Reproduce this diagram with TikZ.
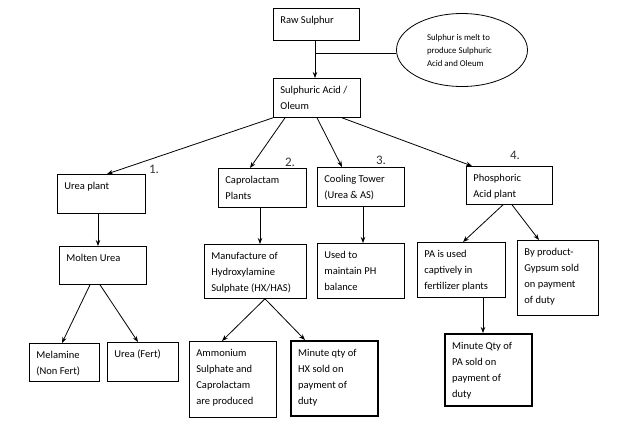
\documentclass[tikz,border=0pt]{standalone}
\usepackage{fontspec}
\setmainfont{Carlito}
\usetikzlibrary{arrows.meta,shapes.geometric}
\newcommand\bt[3]{\parbox[c][#2pt][t]{#1pt}{\raggedright\strut #3}}
\tikzset{
  box/.style={draw, line width=0.8pt, anchor=north west, inner xsep=7pt, inner ysep=4pt,
              font=\fontsize{10.5}{16}\selectfont},
  thickbox/.style={box, line width=2.4pt},
  arr/.style={line width=0.8pt, -{Stealth[length=6pt,width=4.5pt]}},
  ln/.style={line width=0.8pt},
  hand/.style={font=\fontsize{13}{13}\selectfont, text=black!80},
}
\begin{document}
\begin{tikzpicture}[x=1pt,y=-1pt]
\useasboundingbox (0,0) rectangle (624,429);
% top
\node[box] (raw) at (273,8) {\bt{72}{24}{Raw Sulphur}};
\node[box] (sa) at (273,78) {\bt{73}{31}{Sulphuric Acid /\\Oleum}};
\node[draw, ellipse, line width=0.8pt, minimum width=131pt, minimum height=73pt, inner sep=0pt,
      font=\fontsize{8.8}{13}\selectfont] (ell) at (462,50)
      {\parbox{70pt}{\raggedright Sulphur is melt to\\produce Sulphuric\\Acid and Oleum}\hspace{14pt}};
\draw[arr] ([xshift=42pt]raw.south west) -- ([xshift=42pt]sa.north west);
\coordinate (j) at (315,53);
\draw[ln] (j) -- (ell.west |- j);
% level 2
\node[box] (urea) at (57,174) {\bt{74}{31}{Urea plant}};
\node[box] (cap) at (218,168) {\bt{74}{31}{Caprolactam\\Plants}};
\node[box] (cool) at (317,167) {\bt{73}{31}{Cooling Tower\\(Urea \& AS)}};
\node[box] (phos) at (466,166) {\bt{72}{30}{Phosphoric\\Acid plant}};
\draw[arr] (sa.south west) -- ([xshift=50pt]urea.north west);
\draw[arr] ([xshift=12pt]sa.south west) -- ([xshift=32pt]cap.north west);
\draw[arr] ([xshift=44pt]sa.south west) -- ([xshift=25pt]cool.north west);
\draw[arr] ([xshift=69pt]sa.south west) -- ([xshift=6pt]phos.north west);
\node[hand] (n1) at (154,169) {1.};
\node[hand] (n2) at (290,162) {2.};
\node[hand] (n3) at (381,160) {3.};
\node[hand] (n4) at (515,155) {4.};
% level 3
\node[box] (mu) at (59,246) {\bt{73}{30}{Molten Urea}};
\node[box] (man) at (204,244) {\bt{88}{46}{Manufacture of\\Hydroxylamine\\Sulphate (HX/HAS)}};
\node[box] (used) at (317,243) {\bt{73}{47}{Used to\\maintain PH\\balance}};
\node[box] (pa) at (417,242) {\bt{74}{47}{PA is used\\captively in\\fertilizer plants}};
\node[box] (by) at (517,240) {\bt{67}{67}{By product-\\Gypsum sold\\on payment\\of duty}};
\draw[arr] ([xshift=41pt]urea.south west) -- ([xshift=39pt]mu.north west);
\draw[arr] ([xshift=42pt]cap.south west) -- ([xshift=56pt]man.north west);
\draw[arr] ([xshift=46pt]cool.south west) -- ([xshift=46pt]used.north west);
\draw[arr] ([xshift=37pt]phos.south west) -- ([xshift=46pt]pa.north west);
\draw[arr] ([xshift=46pt]phos.south west) -- ([xshift=22pt]by.north west);
% level 4
\node[box] (mel) at (29,343) {\bt{56}{30}{Melamine\\(Non Fert)}};
\node[box] (uf) at (107,342) {\bt{57}{31}{Urea (Fert)}};
\node[box] (amm) at (189,341) {\bt{73}{68}{Ammonium\\Sulphate and\\Caprolactam\\are produced}};
\node[thickbox] (hx) at (290,340) {\bt{73}{67}{Minute qty of\\HX sold on\\payment of\\duty}};
\node[thickbox] (mpa) at (444,333) {\bt{73}{64}{Minute Qty of\\PA sold on\\payment of\\duty}};
\draw[arr] ([xshift=31pt]mu.south west) -- ([xshift=33pt]mel.north west);
\draw[arr] ([xshift=41pt]mu.south west) -- ([xshift=31pt]uf.north west);
\draw[arr] ([xshift=61pt]man.south west) -- ([xshift=33pt]amm.north west);
\draw[arr] ([xshift=61pt]man.south west) -- ([xshift=15pt]hx.north west);
\draw[arr] ([xshift=66pt]pa.south west) -- ([xshift=39pt]mpa.north west);
\end{tikzpicture}
\end{document}
